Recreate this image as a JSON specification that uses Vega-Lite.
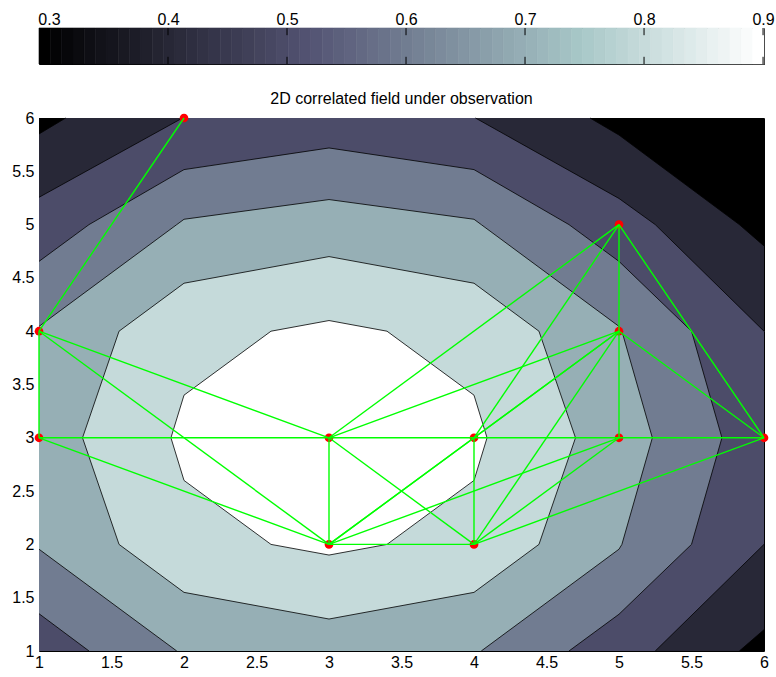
{
  "$schema": "https://vega.github.io/schema/vega-lite/v6.json",
  "background": "white",
  "padding": {"left": 11, "top": 10, "right": 0, "bottom": 0},
  "config": {
    "font": "Liberation Sans",
    "view": {"stroke": "black", "strokeWidth": 1},
    "axis": {"labelFont": "Liberation Sans", "labelFontSize": 16, "labelColor": "black", "grid": false, "domain": false, "ticks": false, "labelFlush": false, "labelOverlap": false}
  },
  "datasets": {
    "cbar": [
      {"k":0,"a":0.2916,"b":0.30112},{"k":1,"a":0.30112,"b":0.31064},{"k":2,"a":0.31064,"b":0.32016},{"k":3,"a":0.32016,"b":0.32968},{"k":4,"a":0.32968,"b":0.33919},{"k":5,"a":0.33919,"b":0.34871},{"k":6,"a":0.34871,"b":0.35823},{"k":7,"a":0.35823,"b":0.36775},
      {"k":8,"a":0.36775,"b":0.37727},{"k":9,"a":0.37727,"b":0.38679},{"k":10,"a":0.38679,"b":0.39631},{"k":11,"a":0.39631,"b":0.40583},{"k":12,"a":0.40583,"b":0.41534},{"k":13,"a":0.41534,"b":0.42486},{"k":14,"a":0.42486,"b":0.43438},{"k":15,"a":0.43438,"b":0.4439},
      {"k":16,"a":0.4439,"b":0.45342},{"k":17,"a":0.45342,"b":0.46294},{"k":18,"a":0.46294,"b":0.47246},{"k":19,"a":0.47246,"b":0.48198},{"k":20,"a":0.48198,"b":0.49149},{"k":21,"a":0.49149,"b":0.50101},{"k":22,"a":0.50101,"b":0.51053},{"k":23,"a":0.51053,"b":0.52005},
      {"k":24,"a":0.52005,"b":0.52957},{"k":25,"a":0.52957,"b":0.53909},{"k":26,"a":0.53909,"b":0.54861},{"k":27,"a":0.54861,"b":0.55813},{"k":28,"a":0.55813,"b":0.56765},{"k":29,"a":0.56765,"b":0.57716},{"k":30,"a":0.57716,"b":0.58668},{"k":31,"a":0.58668,"b":0.5962},
      {"k":32,"a":0.5962,"b":0.60572},{"k":33,"a":0.60572,"b":0.61524},{"k":34,"a":0.61524,"b":0.62476},{"k":35,"a":0.62476,"b":0.63428},{"k":36,"a":0.63428,"b":0.6438},{"k":37,"a":0.6438,"b":0.65331},{"k":38,"a":0.65331,"b":0.66283},{"k":39,"a":0.66283,"b":0.67235},
      {"k":40,"a":0.67235,"b":0.68187},{"k":41,"a":0.68187,"b":0.69139},{"k":42,"a":0.69139,"b":0.70091},{"k":43,"a":0.70091,"b":0.71043},{"k":44,"a":0.71043,"b":0.71995},{"k":45,"a":0.71995,"b":0.72946},{"k":46,"a":0.72946,"b":0.73898},{"k":47,"a":0.73898,"b":0.7485},
      {"k":48,"a":0.7485,"b":0.75802},{"k":49,"a":0.75802,"b":0.76754},{"k":50,"a":0.76754,"b":0.77706},{"k":51,"a":0.77706,"b":0.78658},{"k":52,"a":0.78658,"b":0.7961},{"k":53,"a":0.7961,"b":0.80561},{"k":54,"a":0.80561,"b":0.81513},{"k":55,"a":0.81513,"b":0.82465},
      {"k":56,"a":0.82465,"b":0.83417},{"k":57,"a":0.83417,"b":0.84369},{"k":58,"a":0.84369,"b":0.85321},{"k":59,"a":0.85321,"b":0.86273},{"k":60,"a":0.86273,"b":0.87225},{"k":61,"a":0.87225,"b":0.88176},{"k":62,"a":0.88176,"b":0.89128},{"k":63,"a":0.89128,"b":0.9008}
    ],
    "cbticks": [{"v": 0.3}, {"v": 0.4}, {"v": 0.5}, {"v": 0.6}, {"v": 0.7}, {"v": 0.8}, {"v": 0.9}],
    "fill": [
      {"r":0,"x":1,"t":6,"b":1},{"r":0,"x":6,"t":6,"b":1},
      {"r":1,"x":1,"t":5.85,"b":1},{"r":1,"x":1.184,"t":6,"b":1},{"r":1,"x":4.8,"t":6,"b":1},{"r":1,"x":5,"t":5.84,"b":1},{"r":1,"x":5.83,"t":5,"b":1},{"r":1,"x":6,"t":4.8,"b":1.2},
      {"r":2,"x":1,"t":5.256,"b":1},{"r":2,"x":1.99,"t":6,"b":1},{"r":2,"x":4.01,"t":6,"b":1},{"r":2,"x":5,"t":5.245,"b":1},{"r":2,"x":5.25,"t":5,"b":1},{"r":2,"x":6,"t":4,"b":2},
      {"r":3,"x":1,"t":4.655,"b":1.35},{"r":3,"x":1.345,"t":5,"b":1},{"r":3,"x":2,"t":5.516,"b":1},{"r":3,"x":3,"t":5.719,"b":1},{"r":3,"x":4,"t":5.516,"b":1},{"r":3,"x":4.655,"t":5,"b":1},{"r":3,"x":5,"t":4.655,"b":1.345},{"r":3,"x":5.5,"t":4,"b":2},{"r":3,"x":5.71,"t":3,"b":3},
      {"r":4,"x":1,"t":4.045,"b":1.955},{"r":4,"x":1.95,"t":5,"b":1},{"r":4,"x":2,"t":5.05,"b":1},{"r":4,"x":3,"t":5.235,"b":1},{"r":4,"x":4,"t":5.05,"b":1},{"r":4,"x":4.05,"t":5,"b":1},{"r":4,"x":5,"t":4.045,"b":1.955},{"r":4,"x":5.02,"t":4,"b":2},{"r":4,"x":5.23,"t":3,"b":3},
      {"r":5,"x":1.3,"t":3,"b":3},{"r":5,"x":1.552,"t":4,"b":2},{"r":5,"x":2,"t":4.45,"b":1.55},{"r":5,"x":3,"t":4.7,"b":1.3},{"r":5,"x":4,"t":4.45,"b":1.55},{"r":5,"x":4.448,"t":4,"b":2},{"r":5,"x":4.7,"t":3,"b":3},
      {"r":6,"x":1.91,"t":3,"b":3},{"r":6,"x":2,"t":3.4,"b":2.6},{"r":6,"x":2.6,"t":4,"b":2},{"r":6,"x":3,"t":4.1,"b":1.9},{"r":6,"x":3.4,"t":4,"b":2},{"r":6,"x":4,"t":3.4,"b":2.6},{"r":6,"x":4.09,"t":3,"b":3}
    ],
    "lines": [
      {"id":"a","i":0,"x":1,"y":5.85},{"id":"a","i":1,"x":1.184,"y":6},
      {"id":"b","i":0,"x":4.8,"y":6},{"id":"b","i":1,"x":5,"y":5.84},{"id":"b","i":2,"x":5.83,"y":5},{"id":"b","i":3,"x":6,"y":4.8},
      {"id":"c","i":0,"x":6,"y":1.2},{"id":"c","i":1,"x":5.83,"y":1},
      {"id":"d","i":0,"x":1,"y":5.256},{"id":"d","i":1,"x":1.99,"y":6},
      {"id":"e","i":0,"x":4.01,"y":6},{"id":"e","i":1,"x":5,"y":5.245},{"id":"e","i":2,"x":5.25,"y":5},{"id":"e","i":3,"x":6,"y":4},
      {"id":"f","i":0,"x":6,"y":2},{"id":"f","i":1,"x":5.25,"y":1},
      {"id":"g","i":0,"x":1,"y":4.655},{"id":"g","i":1,"x":1.345,"y":5},{"id":"g","i":2,"x":2,"y":5.516},{"id":"g","i":3,"x":3,"y":5.719},{"id":"g","i":4,"x":4,"y":5.516},{"id":"g","i":5,"x":4.655,"y":5},{"id":"g","i":6,"x":5,"y":4.655},{"id":"g","i":7,"x":5.5,"y":4},{"id":"g","i":8,"x":5.71,"y":3},{"id":"g","i":9,"x":5.5,"y":2},{"id":"g","i":10,"x":5,"y":1.345},{"id":"g","i":11,"x":4.655,"y":1},
      {"id":"h","i":0,"x":1.345,"y":1},{"id":"h","i":1,"x":1,"y":1.35},
      {"id":"i","i":0,"x":1,"y":4.045},{"id":"i","i":1,"x":1.95,"y":5},{"id":"i","i":2,"x":2,"y":5.05},{"id":"i","i":3,"x":3,"y":5.235},{"id":"i","i":4,"x":4,"y":5.05},{"id":"i","i":5,"x":4.05,"y":5},{"id":"i","i":6,"x":5,"y":4.045},{"id":"i","i":7,"x":5.02,"y":4},{"id":"i","i":8,"x":5.23,"y":3},{"id":"i","i":9,"x":5.02,"y":2},{"id":"i","i":10,"x":5,"y":1.955},{"id":"i","i":11,"x":4.05,"y":1},
      {"id":"j","i":0,"x":1.95,"y":1},{"id":"j","i":1,"x":1,"y":1.955},
      {"id":"k","i":0,"x":1.3,"y":3},{"id":"k","i":1,"x":1.552,"y":4},{"id":"k","i":2,"x":2,"y":4.45},{"id":"k","i":3,"x":3,"y":4.7},{"id":"k","i":4,"x":4,"y":4.45},{"id":"k","i":5,"x":4.448,"y":4},{"id":"k","i":6,"x":4.7,"y":3},{"id":"k","i":7,"x":4.448,"y":2},{"id":"k","i":8,"x":4,"y":1.55},{"id":"k","i":9,"x":3,"y":1.3},{"id":"k","i":10,"x":2,"y":1.55},{"id":"k","i":11,"x":1.552,"y":2},{"id":"k","i":12,"x":1.3,"y":3},
      {"id":"l","i":0,"x":1.91,"y":3},{"id":"l","i":1,"x":2,"y":3.4},{"id":"l","i":2,"x":2.6,"y":4},{"id":"l","i":3,"x":3,"y":4.1},{"id":"l","i":4,"x":3.4,"y":4},{"id":"l","i":5,"x":4,"y":3.4},{"id":"l","i":6,"x":4.09,"y":3},{"id":"l","i":7,"x":4,"y":2.6},{"id":"l","i":8,"x":3.4,"y":2},{"id":"l","i":9,"x":3,"y":1.9},{"id":"l","i":10,"x":2.6,"y":2},{"id":"l","i":11,"x":2,"y":2.6},{"id":"l","i":12,"x":1.91,"y":3}
    ],
    "edges": [
      {"x":2,"y":6,"x2":1,"y2":4},
      {"x":1,"y":4,"x2":1,"y2":3},
      {"x":1,"y":4,"x2":3,"y2":3},
      {"x":1,"y":4,"x2":3,"y2":2},
      {"x":1,"y":3,"x2":6,"y2":3},
      {"x":1,"y":3,"x2":3,"y2":2},
      {"x":3,"y":3,"x2":3,"y2":2},
      {"x":3,"y":3,"x2":4,"y2":2},
      {"x":3,"y":2,"x2":4,"y2":3},
      {"x":3,"y":2,"x2":4,"y2":2},
      {"x":4,"y":3,"x2":4,"y2":2},
      {"x":3,"y":3,"x2":5,"y2":5},
      {"x":3,"y":3,"x2":5,"y2":4},
      {"x":3,"y":2,"x2":5,"y2":4},
      {"x":3,"y":2,"x2":5,"y2":3},
      {"x":4,"y":3,"x2":5,"y2":5},
      {"x":4,"y":3,"x2":5,"y2":4},
      {"x":4,"y":2,"x2":5,"y2":4},
      {"x":4,"y":2,"x2":5,"y2":3},
      {"x":4,"y":2,"x2":6,"y2":3},
      {"x":5,"y":5,"x2":5,"y2":3},
      {"x":5,"y":5,"x2":6,"y2":3},
      {"x":5,"y":4,"x2":6,"y2":3}
    ],
    "pts": [
      {"x":1,"y":3},{"x":1,"y":4},{"x":2,"y":6},{"x":3,"y":3},{"x":3,"y":2},{"x":4,"y":3},{"x":4,"y":2},{"x":5,"y":5},{"x":5,"y":4},{"x":5,"y":3},{"x":6,"y":3}
    ]
  },
  "bounds": "flush",
  "spacing": 54,
  "vconcat": [
    {
      "width": 725,
      "height": 36,
      "layer": [
        {
          "data": {"name": "cbar"},
          "mark": {"type": "rect", "strokeWidth": 0.6},
          "encoding": {
            "x": {"field": "a", "type": "quantitative", "scale": {"domain": [0.2916, 0.9008], "nice": false, "zero": false},
              "axis": {"orient": "top", "title": null, "values": [0.3, 0.4, 0.5, 0.6, 0.7, 0.8, 0.9], "format": "~g", "labelPadding": 0.6}},
            "x2": {"field": "b"},
            "color": {"field": "k", "type": "quantitative", "legend": null, "scale": {"domain": [0, 23.625, 47.25, 63], "range": ["#000000", "#545474", "#a7c7c7", "#ffffff"], "interpolate": "rgb"}},
            "stroke": {"field": "k", "type": "quantitative", "legend": null, "scale": {"domain": [0, 23.625, 47.25, 63], "range": ["#000000", "#545474", "#a7c7c7", "#ffffff"], "interpolate": "rgb"}}
          }
        },
        {
          "data": {"name": "cbticks"},
          "mark": {"type": "rule", "color": "black", "strokeWidth": 1},
          "encoding": {
            "x": {"field": "v", "type": "quantitative"},
            "y": {"datum": 1, "type": "quantitative", "scale": {"domain": [0, 1], "nice": false, "zero": false}, "axis": null},
            "y2": {"datum": 0.8}
          }
        },
        {
          "data": {"name": "cbticks"},
          "mark": {"type": "rule", "color": "black", "strokeWidth": 1},
          "encoding": {
            "x": {"field": "v", "type": "quantitative"},
            "y": {"datum": 0, "type": "quantitative"},
            "y2": {"datum": 0.2}
          }
        }
      ]
    },
    {
      "width": 725,
      "height": 533,
      "title": {"text": "2D correlated field under observation", "font": "Liberation Sans", "fontSize": 16, "fontWeight": "normal", "color": "black", "anchor": "middle", "baseline": "alphabetic", "offset": 13.5, "dy": 23},
      "layer": [
        {
          "data": {"name": "fill"},
          "transform": [{"filter": "datum.r == 0"}],
          "mark": {"type": "area", "color": "#000000"},
          "encoding": {
            "x": {"field": "x", "type": "quantitative", "scale": {"domain": [1, 6], "nice": false, "zero": false},
              "axis": {"title": null, "values": [1, 1.5, 2, 2.5, 3, 3.5, 4, 4.5, 5, 5.5, 6], "format": "~g", "labelPadding": 3}},
            "y": {"field": "t", "type": "quantitative", "stack": null, "scale": {"domain": [1, 6], "nice": false, "zero": false},
              "axis": {"title": null, "values": [1, 1.5, 2, 2.5, 3, 3.5, 4, 4.5, 5, 5.5, 6], "format": "~g", "labelPadding": 5}},
            "y2": {"field": "b"}
          }
        },
        {
          "data": {"name": "fill"},
          "transform": [{"filter": "datum.r == 1"}],
          "mark": {"type": "area", "color": "#282837"},
          "encoding": {"x": {"field": "x", "type": "quantitative"}, "y": {"field": "t", "type": "quantitative", "stack": null}, "y2": {"field": "b"}}
        },
        {
          "data": {"name": "fill"},
          "transform": [{"filter": "datum.r == 2"}],
          "mark": {"type": "area", "color": "#4c4c69"},
          "encoding": {"x": {"field": "x", "type": "quantitative"}, "y": {"field": "t", "type": "quantitative", "stack": null}, "y2": {"field": "b"}}
        },
        {
          "data": {"name": "fill"},
          "transform": [{"filter": "datum.r == 3"}],
          "mark": {"type": "area", "color": "#717c91"},
          "encoding": {"x": {"field": "x", "type": "quantitative"}, "y": {"field": "t", "type": "quantitative", "stack": null}, "y2": {"field": "b"}}
        },
        {
          "data": {"name": "fill"},
          "transform": [{"filter": "datum.r == 4"}],
          "mark": {"type": "area", "color": "#96afb5"},
          "encoding": {"x": {"field": "x", "type": "quantitative"}, "y": {"field": "t", "type": "quantitative", "stack": null}, "y2": {"field": "b"}}
        },
        {
          "data": {"name": "fill"},
          "transform": [{"filter": "datum.r == 5"}],
          "mark": {"type": "area", "color": "#c5dada"},
          "encoding": {"x": {"field": "x", "type": "quantitative"}, "y": {"field": "t", "type": "quantitative", "stack": null}, "y2": {"field": "b"}}
        },
        {
          "data": {"name": "fill"},
          "transform": [{"filter": "datum.r == 6"}],
          "mark": {"type": "area", "color": "#ffffff"},
          "encoding": {"x": {"field": "x", "type": "quantitative"}, "y": {"field": "t", "type": "quantitative", "stack": null}, "y2": {"field": "b"}}
        },
        {
          "data": {"name": "lines"},
          "mark": {"type": "line", "color": "black", "strokeWidth": 0.8},
          "encoding": {
            "x": {"field": "x", "type": "quantitative"},
            "y": {"field": "y", "type": "quantitative"},
            "detail": {"field": "id", "type": "nominal"},
            "order": {"field": "i", "type": "quantitative"}
          }
        },
        {
          "data": {"name": "pts"},
          "mark": {"type": "circle", "color": "#ff0000", "size": 75, "opacity": 1},
          "encoding": {
            "x": {"field": "x", "type": "quantitative"},
            "y": {"field": "y", "type": "quantitative"}
          }
        },
        {
          "data": {"name": "edges"},
          "mark": {"type": "rule", "color": "#00ff00", "strokeWidth": 1.4},
          "encoding": {
            "x": {"field": "x", "type": "quantitative"},
            "y": {"field": "y", "type": "quantitative"},
            "x2": {"field": "x2"},
            "y2": {"field": "y2"}
          }
        }
      ]
    }
  ]
}
